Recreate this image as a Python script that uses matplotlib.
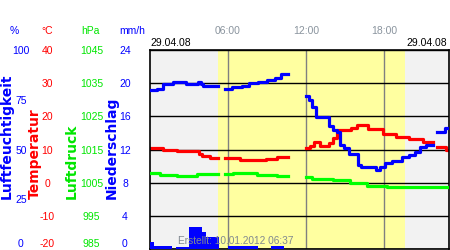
import numpy as np
import matplotlib
matplotlib.use('Agg')
import matplotlib.pyplot as plt

plt.rcParams['font.family'] = ['Liberation Sans', 'DejaVu Sans']
plt.rcParams['axes.unicode_minus'] = False
nan = np.nan

#%% data (time in hours of 29.04.08)
hum_t = [0.0, 0.5, 1.0, 1.8, 2.8, 3.7, 3.9, 4.1, 5.2, nan,
         5.8, 6.3, 7.1, 7.6, 8.3, 9.0, 9.6, 10.1, 10.6, nan,
         12.0, 12.2, 12.5, 12.8, 13.8, 14.1, 14.4, 14.6, 14.9, 15.3, 16.0, 16.2,
         17.4, 17.7, 18.1, 18.6, 19.4, 19.9, 20.4, 20.8, 21.2, 21.8, nan,
         22.1, 22.7, 23.0]
hum = [79.8, 80.6, 82.7, 83.7, 83.0, 83.9, 83.0, 81.8, 81.8, nan,
       80.3, 81.2, 81.8, 83.2, 84.0, 84.8, 86.1, 87.8, 87.8, nan,
       76.8, 75.1, 71.4, 66.3, 62.0, 60.0, 58.7, 52.4, 50.8, 47.5, 42.4, 41.4,
       39.7, 41.1, 43.1, 44.4, 46.1, 47.3, 48.6, 51.5, 52.4, 52.4, nan,
       58.7, 60.6, 60.6]

temp_t = [0.0, 1.0, 2.1, 3.8, 4.0, 4.6, 5.2, nan,
          5.8, 6.9, 7.7, 8.9, 9.8, 10.6, nan,
          12.0, 12.3, 12.6, 13.1, 13.8, 14.1, 14.4, 15.5, 15.9, 16.8, 17.9,
          18.9, 19.9, 21.0, 21.8, nan,
          22.1, 22.8, 23.0]
temp = [10.5, 10.0, 9.5, 8.7, 7.9, 7.5, 7.5, nan,
        7.3, 6.9, 6.7, 7.0, 7.6, 7.6, nan,
        10.5, 11.2, 12.4, 11.2, 12.0, 13.5, 15.8, 16.5, 17.4, 16.1, 14.8,
        13.9, 13.2, 12.2, 12.2, nan,
        10.9, 10.0, 10.0]

pres_t = [0.0, 0.8, 2.1, 3.6, 5.2, nan,
          5.8, 6.4, 8.2, 9.8, 10.6, nan,
          12.0, 12.5, 14.1, 15.4, 16.7, 18.2, 20.8, 21.8, 23.0]
pres = [1007.9, 1007.4, 1007.0, 1007.5, 1007.5, nan,
        1007.6, 1007.9, 1007.4, 1006.9, 1006.9, nan,
        1006.8, 1006.2, 1005.8, 1005.0, 1004.1, 1003.6, 1003.8, 1003.6, 1003.6]

# precipitation, 20-minute bins from 00:00
rain = [0.85, 0.33, 0.33, 0.33, 0.33, 0, 0.25, 0.25, 0.25, 2.6, 2.6, 2.6,
        2.0, 1.45, 1.45, 1.45, 0, 0, 0.36, 0.36, 0.36, 0.36, 0.36, 0.36,
        0.36, 0, 0, 0, 0.36, 0.36, 0.36, 0, 0, 0, 0, 0,
        0, 0, 0, 0, 0, 0, 0, 0, 0, 0, 0, 0,
        0, 0, 0, 0, 0, 0, 0, 0, 0, 0, 0, 0,
        0, 0, 0, 0, 0, 0, 0, 0, 0]
rain_t = np.arange(len(rain)) / 3.0

sunrise, sunset = 5.2, 19.6
time_ticks = [6, 12, 18]
time_labels = ['06:00', '12:00', '18:00']

hum_ticks = [0, 25, 50, 75, 100]
temp_ticks = [-20, -10, 0, 10, 20, 30, 40]
pres_ticks = [985, 995, 1005, 1015, 1025, 1035, 1045]
rain_ticks = [0, 4, 8, 12, 16, 20, 24]

BLUE = '#0000ff'
RED = '#ff0000'
GREEN = '#00e600'
GRAY = '#8a949e'
fs = 7.5

#%%
fig = plt.figure(figsize=(4.5, 2.5), dpi=100)
ax = fig.add_axes([150/450, 1/250, 299/450, 199/250])
ax.set_xlim(0, 23)
ax.set_ylim(-20, 40)
ax.set_facecolor('#f2f2f2')
ax.axvspan(sunrise, sunset, color='#ffffa0', lw=0, zorder=0)

ax.set_yticks(temp_ticks)
ax.set_xticks(time_ticks)
ax.set_xticklabels(time_labels)
ax.xaxis.tick_top()
ax.tick_params(axis='x', length=0, pad=10, labelsize=fs, labelcolor=GRAY)
ax.grid(axis='x', color='#808080', lw=1)
ax.grid(axis='y', color='black', lw=1)
ax.set_axisbelow(True)


def side_axis(a, lim, ticks, color, pad):
    a.set_ylim(*lim)
    a.set_yticks(ticks)
    a.yaxis.set_ticks_position('left')
    a.tick_params(axis='y', length=0, pad=pad, labelsize=fs, labelcolor=color)
    for lab in a.get_yticklabels():
        lab.set_ha('center')
    a.get_yticklabels()[0].set_va('bottom')
    for s in a.spines.values():
        s.set_visible(False)


ax_h = ax.twinx()
ax_p = ax.twinx()
ax_r = ax.twinx()

side_axis(ax, (-20, 40), temp_ticks, RED, 74)
side_axis(ax_h, (0, 100), hum_ticks, BLUE, 93)
side_axis(ax_p, (985, 1045), pres_ticks, GREEN, 42)
side_axis(ax_r, (0, 24), rain_ticks, BLUE, 18)
for s in ax.spines.values():
    s.set_visible(True)
    s.set_color('black')
    s.set_linewidth(1.2)

ax_r.bar(rain_t, rain, width=1/3, align='edge', color=BLUE, lw=0)
ax_p.plot(pres_t, pres, color='#00ff00', lw=2.3, drawstyle='steps-post')
ax.plot(temp_t, temp, color=RED, lw=2.3, drawstyle='steps-post')
ax_h.plot(hum_t, hum, color=BLUE, lw=2.3, drawstyle='steps-post')

# units and rotated axis titles
for x, txt, c in [(14, '%', BLUE), (47, '°C', RED), (90, 'hPa', GREEN), (132, 'mm/h', BLUE)]:
    fig.text(x/450, 1 - 31/250, txt, color=c, fontsize=fs, ha='center', va='center')
for x, txt, c in [(7, 'Luftfeuchtigkeit', BLUE), (35, 'Temperatur', RED),
                  (72, 'Luftdruck', GREEN), (112, 'Niederschlag', BLUE)]:
    fig.text(x/450, 1 - 199/250, txt, color=c, fontsize=10, fontweight='bold',
             family='DejaVu Sans', rotation=90, ha='center', va='bottom')

fig.text(150/450, 1 - 43/250, '29.04.08', fontsize=fs, ha='left', va='center')
fig.text(447/450, 1 - 43/250, '29.04.08', fontsize=fs, ha='right', va='center')
fig.text(236/450, 1 - 241/250, 'Erstellt: 10.01.2012 06:37', fontsize=7.3,
         color='#808890', ha='center', va='center', zorder=10)

fig.savefig('out.png', dpi=100)
